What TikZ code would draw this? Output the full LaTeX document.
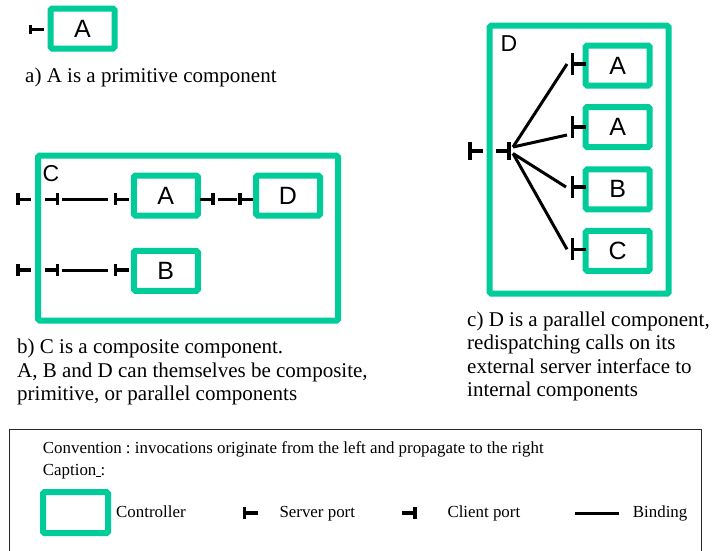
\documentclass[tikz,border=0pt]{standalone}
\usepackage{fontspec}
\setmainfont{Liberation Serif}
\setsansfont{Liberation Sans}
\usetikzlibrary{calc}
\definecolor{ctrlgreen}{RGB}{0,204,153}
\frenchspacing

% font size helper (size in pt, tight leading)
\newcommand\fsz[1]{\fontsize{#1}{#1}\selectfont}

\begin{document}
\begin{tikzpicture}[x=1pt,y=-1pt,
  ctrl/.style={draw=ctrlgreen, line width=6pt, rounded corners=1.5pt,
               inner sep=0pt, font=\sffamily\fsz{25}},
  comp/.style={ctrl, minimum width=64pt, minimum height=40pt},
  boxlabel/.style={inner sep=0pt, font=\sffamily\fsz{23}},
  portline/.style={line width=3.6pt},
  binding/.style={line width=3pt},
  caption/.style={anchor=base west, inner sep=0pt, font=\fsz{21}},
  legendtxt/.style={anchor=base west, inner sep=0pt, font=\fsz{16.9}},
  legendframe/.style={draw=black!85, line width=1pt},
  pics/srvport/.style={code={\draw[portline] (0,-#1) -- (0,#1) (0,0) -- (13,0);}},
  pics/cltport/.style={code={\draw[portline] (-13,0) -- (0,0) (0,-#1) -- (0,#1);}},
]
\useasboundingbox (0,0) rectangle (713,550);

% ---------- a) primitive component ----------
\node[comp] (pA) at (82.5,28.5) {A};
\coordinate (pAs) at (30.5,29.5);
\pic at (pAs) {srvport=4.5};
\node[caption] (capA) at (25,82) {a) A is a primitive component};

% ---------- b) composite component ----------
\node[ctrl, minimum width=300pt, minimum height=165pt] (C) at (188,238) {};
\node[boxlabel] (Clabel) at (51,173.5) {C};
\node[comp] (bA) at (165.8,195.5) {A};
\node[comp] (bD) at (288,195.5) {D};
\node[comp] (bB) at (165.8,270.8) {B};

% row 1 ports
\coordinate (cS1) at (18,199.3);
\coordinate (cC1) at (57.5,199.3);
\coordinate (bAs) at (115.5,199.3);
\coordinate (bAc) at (213,199.3);
\coordinate (bDs) at (240,199.3);
\pic at (cS1) {srvport=6};
\pic at (cC1) {cltport=6};
\pic at (bAs) {srvport=6};
\pic at (bAc) {cltport=6};
\pic at (bDs) {srvport=6};
\draw[binding, shorten <=4.5pt, shorten >=7.5pt] (cC1) -- (bAs);
\draw[binding, shorten <=5pt, shorten >=3pt] (bAc) -- (bDs);

% row 2 ports
\coordinate (cS2) at (18,270);
\coordinate (cC2) at (57.5,270);
\coordinate (bBs) at (115.5,270);
\pic at (cS2) {srvport=6};
\pic at (cC2) {cltport=6};
\pic at (bBs) {srvport=6};
\draw[binding, shorten <=4.5pt, shorten >=7.5pt] (cC2) -- (bBs);

\node[caption] (capB1) at (17,353.5) {b) C is a composite component.};
\node[caption] (capB2) at (17,377) {A, B and D can themselves be composite,};
\node[caption] (capB3) at (17,400.5) {primitive, or parallel components};

% ---------- c) parallel component ----------
\node[ctrl, minimum width=179pt, minimum height=268pt] (D) at (579.2,159.7) {};
\node[boxlabel] (Dlabel) at (509,43.5) {D};
\node[comp] (dA1) at (617.7,65.5) {A};
\node[comp] (dA2) at (617.7,127) {A};
\node[comp] (dB) at (617.7,189.3) {B};
\node[comp] (dC) at (617.7,250.8) {C};

\coordinate (dS) at (470,151);
\coordinate (dCl) at (509,151);
\pic at (dS) {srvport=9};
\pic at (dCl) {cltport=9};
\coordinate (dA1s) at (572.5,64);
\coordinate (dA2s) at (572.5,127);
\coordinate (dBs) at (572.5,187);
\coordinate (dCs) at (572.5,249.3);
\foreach \p in {dA1s,dA2s,dBs,dCs} \pic at (\p) {srvport=11};

\coordinate (fanUp) at (513,147);
\coordinate (fanDn) at (513,153.5);
\draw[binding] (fanUp) -- ($(dA1s)+(-5.5,0)$);
\draw[binding] (fanUp) -- ($(dA2s)+(-5.5,8)$);
\draw[binding] (fanDn) -- ($(dBs)+(-6.5,0)$);
\draw[binding] (fanDn) -- ($(dCs)+(-5.5,0)$);

\node[caption] (capC1) at (467,326) {c) D is a parallel component,};
\node[caption] (capC2) at (467,349.5) {redispatching calls on its};
\node[caption] (capC3) at (467,373) {external server interface to};
\node[caption] (capC4) at (467,396.5) {internal components};

% ---------- legend ----------
\draw[legendframe] (9,551) -- (9,429.5) -- (701,429.5) -- (701,551);
\node[legendtxt] (conv) at (42.7,453.3)
  {Convention : invocations originate from the left and propagate to the right};
\node[legendtxt] (capt) at (42.7,475) {Caption\underline{\ }:};

\node[ctrl, minimum width=65pt, minimum height=41pt] (lgCtrl) at (75.5,512.5) {};
\node[legendtxt] (lgCtrlTxt) at (116,517.7) {Controller};

\coordinate (lgSrv) at (244.5,513);
\pic at (lgSrv) {srvport=6};
\node[legendtxt] (lgSrvTxt) at (279.3,517.7) {Server port};

\coordinate (lgClt) at (415,513);
\pic at (lgClt) {cltport=6};
\node[legendtxt] (lgCltTxt) at (447.3,517.7) {Client port};

\coordinate (lgB1) at (575,513);
\coordinate (lgB2) at (619,513);
\draw[binding] (lgB1) -- (lgB2);
\node[legendtxt] (lgBTxt) at (632.7,517.7) {Binding};
\end{tikzpicture}
\end{document}
